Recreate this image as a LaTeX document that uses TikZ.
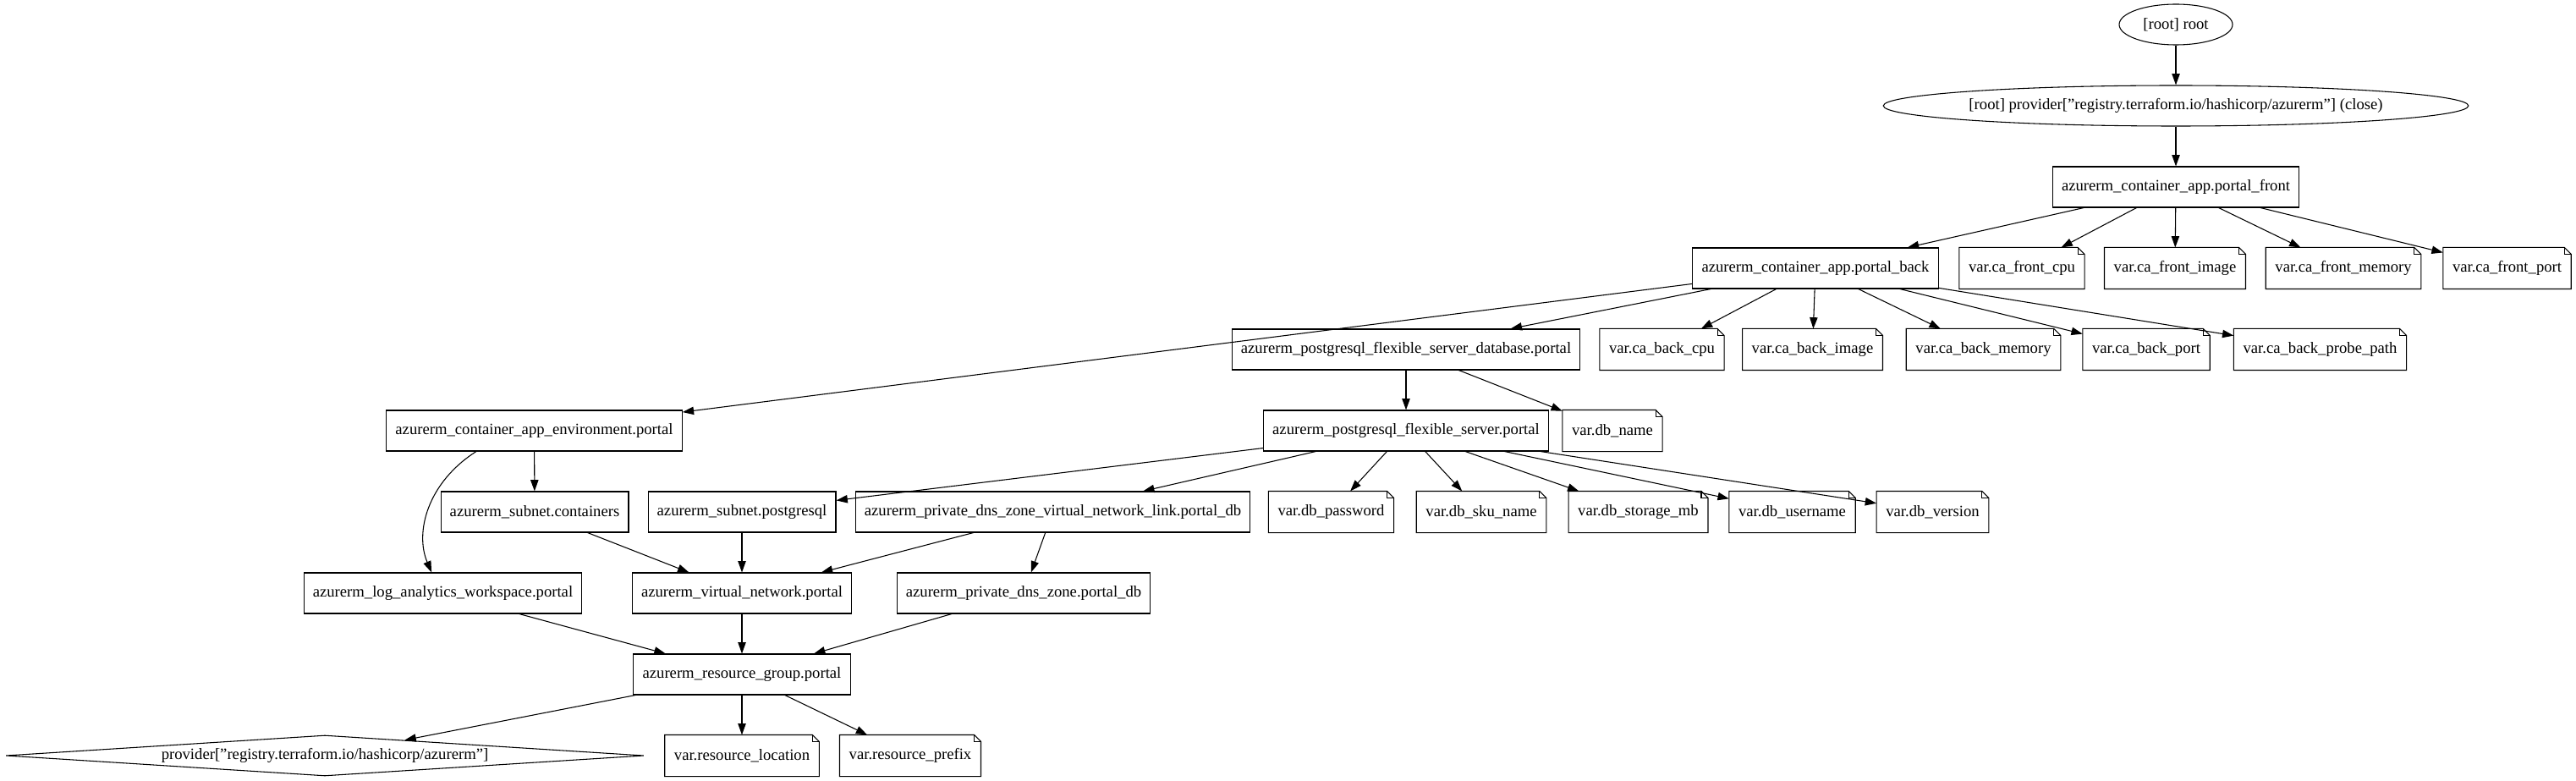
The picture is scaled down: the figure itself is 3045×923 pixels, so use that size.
\documentclass[tikz,border=0pt]{standalone}
\usepackage{fontspec}
\setmainfont{Liberation Serif}
\usetikzlibrary{shapes.geometric,arrows.meta}
\tikzset{
  base/.style={font=\fontsize{14}{16}\selectfont, line width=0.8pt, inner xsep=8pt, inner ysep=0pt, minimum height=36pt},
  box/.style={base, rectangle, draw},
  notebase/.style={base, rectangle},
  outline/.style={line width=0.8pt, line join=miter},
  ell/.style={base, ellipse, draw, inner sep=0pt},
  dia/.style={base, diamond, draw, inner sep=0pt, aspect=15.7, minimum width=565.5pt, minimum height=36pt},
  edge/.style={line width=0.8pt, -{Triangle[length=10pt,width=7pt]}}
}
\newcommand\vnote[3]{%
  \node[notebase] (#1) at (#2) {#3};
  \draw[outline] (#1.south west) -- (#1.south east) -- ([yshift=-6pt]#1.north east) -- ([xshift=-6pt]#1.north east) -- (#1.north west) -- cycle;
  \draw[outline] ([xshift=-6pt]#1.north east) |- ([yshift=-6pt]#1.north east);
}
\begin{document}
\begin{tikzpicture}[x=0.75pt,y=-0.75pt]
\useasboundingbox (0,0) rectangle (3045,923);
% rank 0-2
\node[ell, minimum width=100.5pt, minimum height=36pt] (root) at (2572,29) {[root] root};
\node[ell, minimum width=507pt, minimum height=36pt] (pclose) at (2572,125) {[root] provider["registry.terraform.io/hashicorp/azurerm"] (close)};
\node[box] (front) at (2572,221) {azurerm\_container\_app.portal\_front};
% rank 3
\node[box] (back) at (2146,317) {azurerm\_container\_app.portal\_back};
\vnote{fcpu}{2390,317}{var.ca\_front\_cpu}
\vnote{fimage}{2571,317}{var.ca\_front\_image}
\vnote{fmem}{2770,317}{var.ca\_front\_memory}
\vnote{fport}{2963.5,317}{var.ca\_front\_port}
% rank 4
\node[box] (db) at (1662,413) {azurerm\_postgresql\_flexible\_server\_database.portal};
\vnote{bcpu}{1964.5,413}{var.ca\_back\_cpu}
\vnote{bimage}{2142.5,413}{var.ca\_back\_image}
\vnote{bmem}{2344.5,413}{var.ca\_back\_memory}
\vnote{bport}{2537,413}{var.ca\_back\_port}
\vnote{bprobe}{2742.5,413}{var.ca\_back\_probe\_path}
% rank 5
\node[box] (env) at (631.5,509) {azurerm\_container\_app\_environment.portal};
\node[box] (flex) at (1662,509) {azurerm\_postgresql\_flexible\_server.portal};
\vnote{dbname}{1906,509}{var.db\_name}
% rank 6
\node[box] (subc) at (632,605) {azurerm\_subnet.containers};
\node[box] (subp) at (877,605) {azurerm\_subnet.postgresql};
\node[box] (link) at (1244.5,605) {azurerm\_private\_dns\_zone\_virtual\_network\_link.portal\_db};
\vnote{dpw}{1573.5,605}{var.db\_password}
\vnote{dsku}{1751,605}{var.db\_sku\_name}
\vnote{dstor}{1936.5,605}{var.db\_storage\_mb}
\vnote{duser}{2118.5,605}{var.db\_username}
\vnote{dver}{2284.5,605}{var.db\_version}
% rank 7
\node[box] (log) at (523.5,701) {azurerm\_log\_analytics\_workspace.portal};
\node[box] (vnet) at (877,701) {azurerm\_virtual\_network.portal};
\node[box] (dns) at (1210,701) {azurerm\_private\_dns\_zone.portal\_db};
% rank 8
\node[box] (rg) at (877,797) {azurerm\_resource\_group.portal};
% rank 9
\node[dia] (prov) at (384,893) {provider["registry.terraform.io/hashicorp/azurerm"]};
\vnote{loc}{877,893}{var.resource\_location}
\vnote{pref}{1076,893}{var.resource\_prefix}
% edges
\draw[edge] (root) -- (pclose);
\draw[edge] (pclose) -- (front);
\foreach \t in {back,fcpu,fimage,fmem,fport} \draw[edge] (front) -- (\t);
\foreach \t in {env,db,bcpu,bimage,bmem,bport,bprobe} \draw[edge] (back) -- (\t);
\draw[edge] (db) -- (flex);
\draw[edge] (db) -- (dbname);
\draw[edge] (env) -- (subc);
\draw[edge] ([xshift=-51.4pt]env.south) .. controls +(-58,37) and +(-20,-47) .. ([xshift=-10pt]log.north);
\foreach \t in {subp,link,dpw,dsku,dstor,duser,dver} \draw[edge] (flex) -- (\t);
\draw[edge] (subc) -- (vnet);
\draw[edge] (subp) -- (vnet);
\draw[edge] (link) -- (vnet);
\draw[edge] (link) -- (dns);
\draw[edge] (log) -- (rg);
\draw[edge] (vnet) -- (rg);
\draw[edge] (dns) -- (rg);
\draw[edge] (rg) -- (prov);
\draw[edge] (rg) -- (loc);
\draw[edge] (rg) -- (pref);
\end{tikzpicture}
\end{document}
